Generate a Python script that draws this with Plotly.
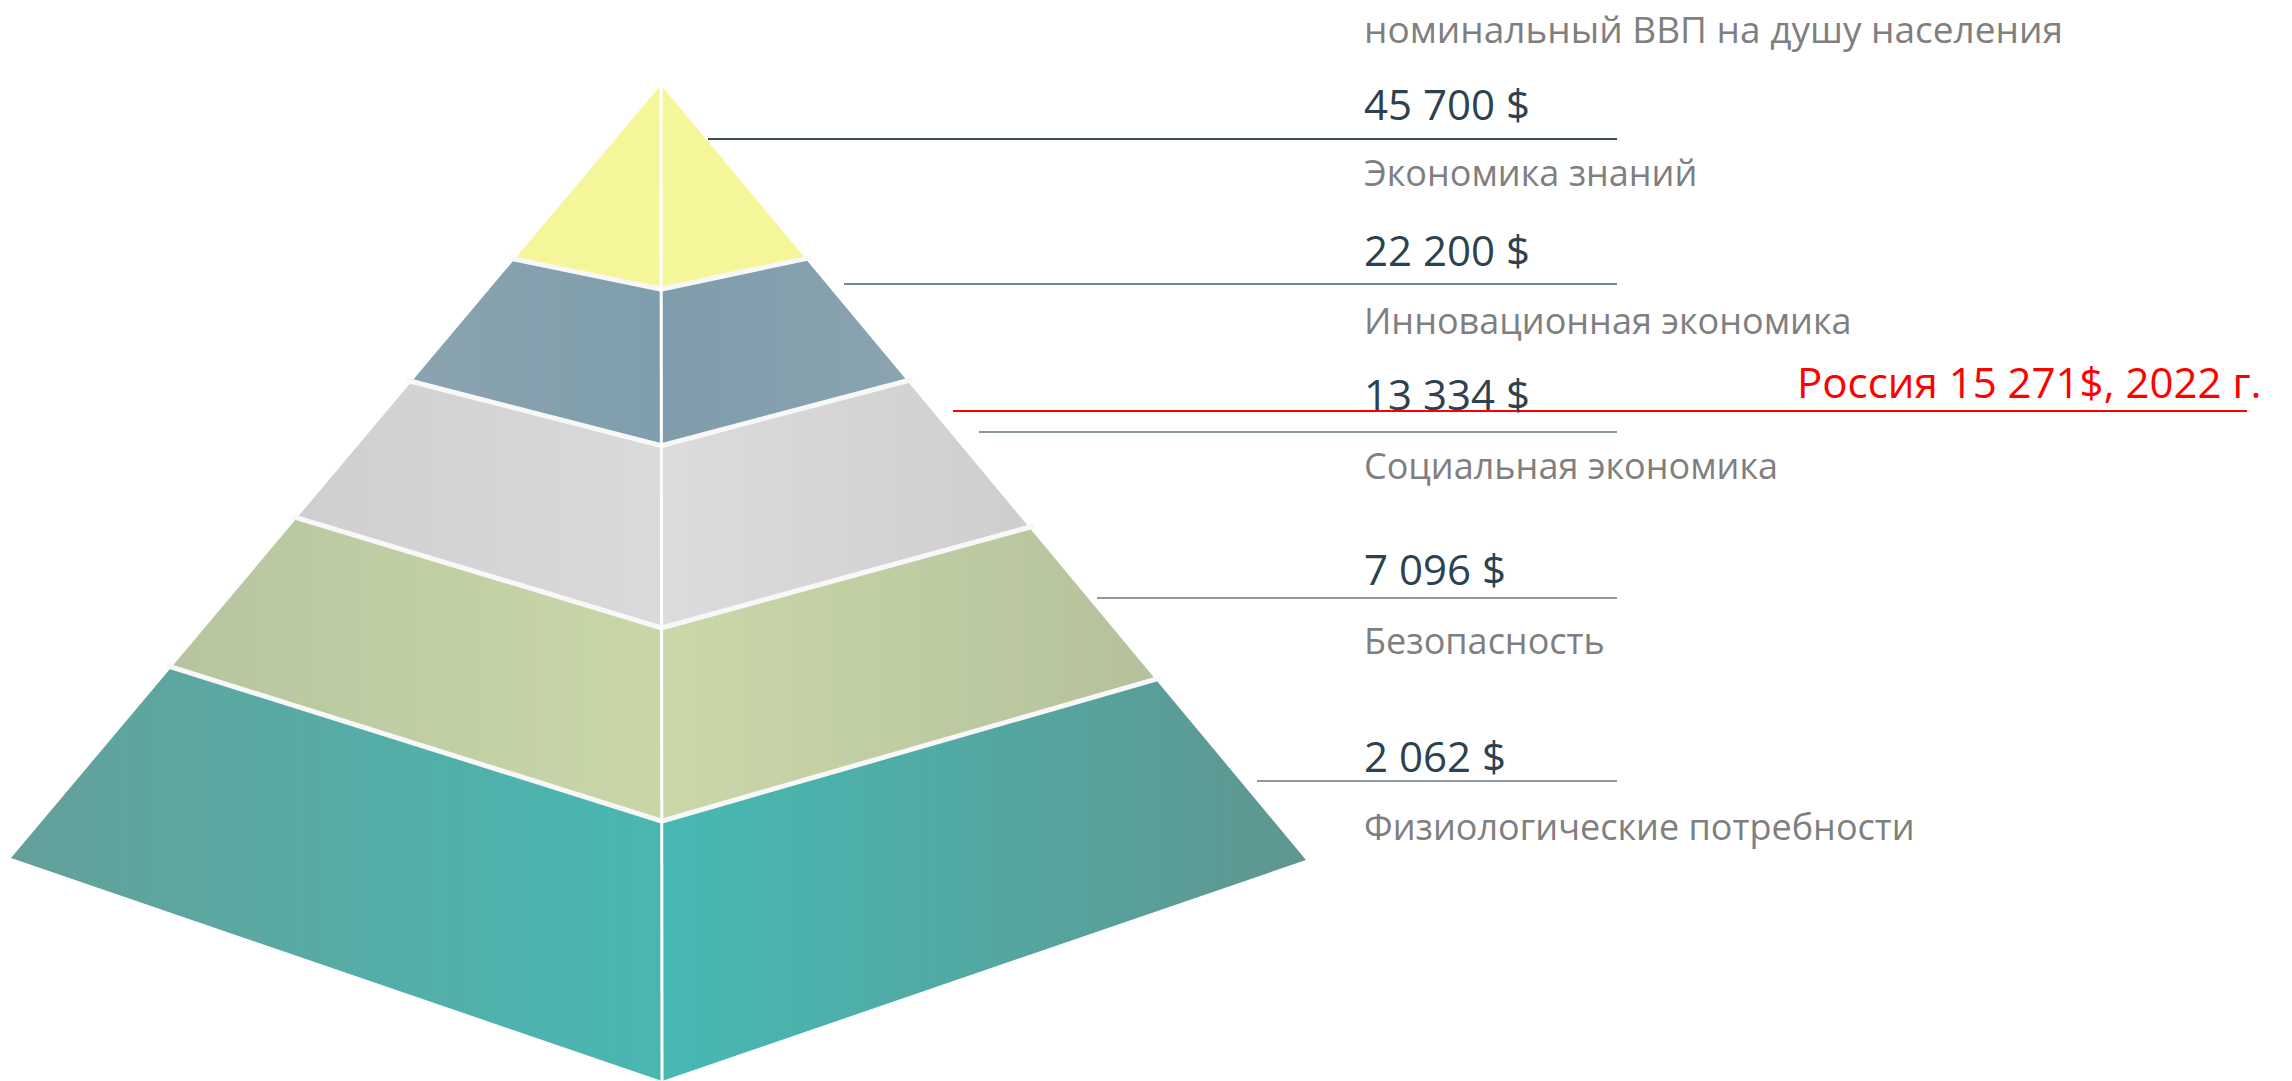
import plotly.graph_objects as go

# ---------------- data ----------------
levels = ["Экономика знаний", "Инновационная экономика", "Социальная экономика",
          "Безопасность", "Физиологические потребности"]
gdp_values = ["45 700 $", "22 200 $", "13 334 $", "7 096 $", "2 062 $"]
header = "номинальный ВВП на душу населения"
russia_label = "Россия 15 271$, 2022 г."

# ---------------- styling / layout config ----------------
W, H = 2292, 1081
FONT = "Open Sans"
# face gradients: (left face outer, left face centre, right face centre, right face outer)
face_colors = [
    ("#f5f599", "#f6f69a", "#f6f69a", "#f5f599"),
    ("#8aa3af", "#7f9ead", "#7f9cab", "#8aa4b0"),
    ("#cfcfcf", "#dadada", "#dcdcdc", "#cecece"),
    ("#b6c59f", "#c9d7a8", "#cad8a9", "#b4c19c"),
    ("#64a09a", "#49b7b1", "#47b9b3", "#5f9690"),
]
APEX = (661, 85)
BASE_LEFT = (11, 858)
BASE_RIGHT = (1306, 860)
BASE_FRONT = (662, 1081)
# fractions along the edges (0 apex -> 1 base) where layers meet
t_left = [0.0, 0.224, 0.382, 0.558, 0.751, 1.0]
t_center = [0.0, 0.205, 0.362, 0.545, 0.739, 1.0]
t_right = [0.0, 0.2225, 0.380, 0.569, 0.765, 1.0]

leader_y = [139, 284, 432, 598, 781]
leader_x0 = [708, 844, 979, 1097, 1257]
leader_x1 = 1617
leader_colors = ["#3b4b57", "#71899a", "#8a979e", "#8d9ba1", "#8d9ba1"]
value_y = [103, 249, 393, 568, 755]
label_y = [172, 320, 465, 640, 826]
text_x = 1362
russia_line = dict(y=411, x0=953, x1=2247)


def lerp(p, q, t):
    return (p[0] + (q[0] - p[0]) * t, p[1] + (q[1] - p[1]) * t)


fig = go.Figure()

for i in range(len(levels)):
    lt, lb = lerp(APEX, BASE_LEFT, t_left[i]), lerp(APEX, BASE_LEFT, t_left[i + 1])
    ct, cb = lerp(APEX, BASE_FRONT, t_center[i]), lerp(APEX, BASE_FRONT, t_center[i + 1])
    rt, rb = lerp(APEX, BASE_RIGHT, t_right[i]), lerp(APEX, BASE_RIGHT, t_right[i + 1])
    c = face_colors[i]
    # left face
    fig.add_trace(go.Scatter(
        x=[lt[0], ct[0], cb[0], lb[0], lt[0]],
        y=[lt[1], ct[1], cb[1], lb[1], lt[1]],
        mode="lines", fill="toself",
        fillgradient=dict(type="horizontal", colorscale=[[0, c[0]], [1, c[1]]]),
        line=dict(width=0),
        hoverinfo="skip", showlegend=False))
    # right face
    fig.add_trace(go.Scatter(
        x=[ct[0], rt[0], rb[0], cb[0], ct[0]],
        y=[ct[1], rt[1], rb[1], cb[1], ct[1]],
        mode="lines", fill="toself",
        fillgradient=dict(type="horizontal", colorscale=[[0, c[2]], [1, c[3]]]),
        line=dict(width=0),
        hoverinfo="skip", showlegend=False))

# separators between layers (white gaps)
for k in range(1, len(levels)):
    l = lerp(APEX, BASE_LEFT, t_left[k])
    cc = lerp(APEX, BASE_FRONT, t_center[k])
    r = lerp(APEX, BASE_RIGHT, t_right[k])
    fig.add_trace(go.Scatter(
        x=[l[0] - 6, cc[0], r[0] + 6], y=[l[1], cc[1], r[1]],
        mode="lines", line=dict(color="#f8f8f8", width=5),
        hoverinfo="skip", showlegend=False))
# front edge
fig.add_trace(go.Scatter(
    x=[APEX[0], BASE_FRONT[0]], y=[APEX[1], BASE_FRONT[1]],
    mode="lines", line=dict(color="white", width=3),
    hoverinfo="skip", showlegend=False))

shapes = []
annotations = []
for i in range(len(levels)):
    shapes.append(dict(type="line", xref="x", yref="y",
                       x0=leader_x0[i], x1=leader_x1, y0=leader_y[i], y1=leader_y[i],
                       line=dict(color=leader_colors[i], width=2)))
    annotations.append(dict(x=text_x, y=value_y[i], xref="x", yref="y",
                            text=gdp_values[i], showarrow=False,
                            xanchor="left", yanchor="middle",
                            font=dict(family=FONT, size=42, color="#2d4250")))
    annotations.append(dict(x=text_x, y=label_y[i], xref="x", yref="y",
                            text=levels[i], showarrow=False,
                            xanchor="left", yanchor="middle",
                            font=dict(family=FONT, size=36, color="#7f7f7f")))

annotations.append(dict(x=text_x, y=1, xref="x", yref="y", text=header,
                        showarrow=False, xanchor="left", yanchor="top",
                        font=dict(family=FONT, size=37, color="#7f7f7f")))
shapes.append(dict(type="line", xref="x", yref="y",
                   x0=russia_line["x0"], x1=russia_line["x1"],
                   y0=russia_line["y"], y1=russia_line["y"],
                   line=dict(color="#ff0000", width=2)))
annotations.append(dict(x=1795, y=381, xref="x", yref="y", text=russia_label,
                        showarrow=False, xanchor="left", yanchor="middle",
                        font=dict(family=FONT, size=42, color="#ff0000")))

fig.update_layout(
    width=W, height=H,
    margin=dict(l=0, r=0, t=0, b=0),
    paper_bgcolor="white", plot_bgcolor="white",
    xaxis=dict(range=[0, W], visible=False, fixedrange=True),
    yaxis=dict(range=[H, 0], visible=False, fixedrange=True),
    shapes=shapes, annotations=annotations,
    showlegend=False,
)

fig.write_html("out.html", config={"displayModeBar": False, "staticPlot": True},
               post_script="document.body.style.margin='0';document.body.style.overflow='hidden';")
